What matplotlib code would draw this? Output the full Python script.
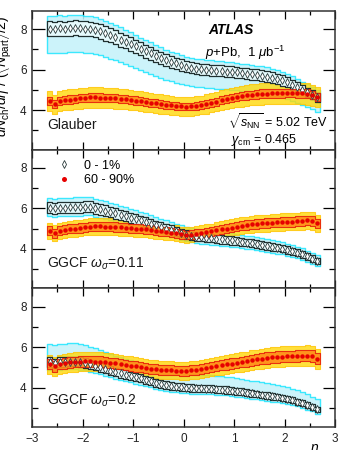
import matplotlib
matplotlib.use("Agg")
import matplotlib.pyplot as plt
import numpy as np
from matplotlib.lines import Line2D
from matplotlib.ticker import MultipleLocator

plt.rcParams["font.family"] = ["Liberation Sans", "DejaVu Sans"]
plt.rcParams["mathtext.fontset"] = "custom"
plt.rcParams["mathtext.rm"] = "Liberation Sans"
plt.rcParams["mathtext.it"] = "Liberation Sans:italic"
plt.rcParams["mathtext.bf"] = "Liberation Sans:bold"

# eta bin centres, -2.65 ... 2.65 in 0.1 bins
eta = np.round(np.arange(-2.65, 2.7, 0.1), 2)

# --- Glauber ---
glauber_central = [
    8.02, 8.00, 8.03, 8.00, 8.05, 8.07, 8.05, 8.02, 8.00, 7.95,
    7.88, 7.78, 7.70, 7.60, 7.48, 7.38, 7.25, 7.15, 7.02, 6.90,
    6.80, 6.68, 6.58, 6.47, 6.38, 6.30, 6.22, 6.15, 6.10, 6.05,
    6.02, 6.00, 5.97, 5.95, 5.93, 5.90, 5.88, 5.86, 5.83, 5.80,
    5.77, 5.74, 5.70, 5.65, 5.60, 5.53, 5.46, 5.37, 5.25, 5.13,
    5.00, 4.88, 4.75, 4.62,
]
glauber_peripheral = [
    4.43, 4.28, 4.45, 4.50, 4.52, 4.55, 4.58, 4.60, 4.62, 4.62,
    4.61, 4.60, 4.60, 4.58, 4.56, 4.53, 4.50, 4.47, 4.43, 4.40,
    4.36, 4.33, 4.30, 4.26, 4.23, 4.20, 4.18, 4.17, 4.18, 4.21,
    4.25, 4.30, 4.36, 4.42, 4.48, 4.54, 4.60, 4.65, 4.69, 4.72,
    4.75, 4.78, 4.80, 4.81, 4.82, 4.83, 4.83, 4.84, 4.84, 4.83,
    4.82, 4.80, 4.74, 4.65,
]

# --- GGCF omega = 0.11 ---
ggcf011_central = [
    6.02, 6.00, 6.03, 6.02, 6.04, 6.05, 6.06, 6.07, 6.08, 6.00,
    5.95, 5.88, 5.82, 5.75, 5.68, 5.60, 5.53, 5.46, 5.40, 5.32,
    5.24, 5.16, 5.08, 5.00, 4.93, 4.86, 4.78, 4.70, 4.64, 4.60,
    4.57, 4.54, 4.52, 4.49, 4.46, 4.44, 4.41, 4.38, 4.35, 4.31,
    4.27, 4.23, 4.19, 4.15, 4.10, 4.05, 4.00, 3.94, 3.87, 3.80,
    3.72, 3.62, 3.52, 3.40,
]
ggcf011_peripheral = [
    4.90, 4.77, 4.90, 4.95, 4.98, 5.00, 5.03, 5.07, 5.10, 5.11,
    5.11, 5.10, 5.10, 5.08, 5.06, 5.04, 5.02, 5.00, 4.98, 4.96,
    4.93, 4.90, 4.87, 4.84, 4.80, 4.77, 4.72, 4.68, 4.70, 4.74,
    4.78, 4.82, 4.86, 4.91, 4.96, 5.00, 5.05, 5.10, 5.14, 5.17,
    5.20, 5.23, 5.25, 5.27, 5.29, 5.30, 5.32, 5.33, 5.34, 5.36,
    5.38, 5.40, 5.38, 5.25,
]

# --- GGCF omega = 0.2 ---
ggcf02_central = [
    5.25, 5.20, 5.25, 5.27, 5.28, 5.28, 5.25, 5.22, 5.15, 5.07,
    5.00, 4.92, 4.84, 4.77, 4.70, 4.64, 4.57, 4.51, 4.45, 4.38,
    4.31, 4.24, 4.18, 4.12, 4.07, 4.04, 4.02, 4.00, 3.98, 3.97,
    3.96, 3.95, 3.94, 3.92, 3.90, 3.88, 3.85, 3.82, 3.79, 3.75,
    3.71, 3.68, 3.64, 3.60, 3.56, 3.52, 3.48, 3.43, 3.37, 3.30,
    3.22, 3.13, 3.03, 2.92,
]
ggcf02_peripheral = [
    5.15, 5.04, 5.15, 5.20, 5.24, 5.26, 5.28, 5.29, 5.29, 5.28,
    5.27, 5.25, 5.22, 5.19, 5.15, 5.12, 5.08, 5.04, 5.00, 4.97,
    4.94, 4.91, 4.88, 4.86, 4.85, 4.84, 4.83, 4.83, 4.85, 4.88,
    4.92, 4.96, 5.00, 5.05, 5.10, 5.14, 5.18, 5.22, 5.26, 5.30,
    5.35, 5.39, 5.42, 5.46, 5.49, 5.51, 5.53, 5.54, 5.55, 5.56,
    5.57, 5.58, 5.56, 5.42,
]

# relative uncertainties: (sys box, band up, band down)
glauber_central_unc = (0.046, 0.08, 0.15)
glauber_peripheral_unc = (0.045, 0.11, 0.11)
ggcf011_central_unc = (0.045, 0.08, 0.07)
ggcf011_peripheral_unc = (0.045, 0.08, 0.08)
ggcf02_central_unc = (0.045, 0.17, 0.07)
ggcf02_peripheral_unc = (0.05, 0.09, 0.09)

panel_labels = ["Glauber", r"GGCF $\omega_{\sigma}$=0.11", r"GGCF $\omega_{\sigma}$=0.2"]
legend_labels = ["0 - 1%", "60 - 90%"]

panels = [
    (glauber_central, glauber_central_unc, glauber_peripheral, glauber_peripheral_unc),
    (ggcf011_central, ggcf011_central_unc, ggcf011_peripheral, ggcf011_peripheral_unc),
    (ggcf02_central, ggcf02_central_unc, ggcf02_peripheral, ggcf02_peripheral_unc),
]

edges = np.append(eta - 0.05, eta[-1] + 0.05)


def step_band(ax, lo, hi, **kw):
    lo = np.append(lo, lo[-1])
    hi = np.append(hi, hi[-1])
    ax.fill_between(edges, lo, hi, step="post", **kw)


def draw_series(ax, vals, unc, kind):
    v = np.asarray(vals)
    sys, up, dn = unc
    if kind == "central":
        step_band(ax, v * (1 - dn), v * (1 + up), facecolor="#c4f2fa",
                  edgecolor="#1ee6ff", lw=1.0, alpha=0.85, zorder=2)
        step_band(ax, v * (1 - sys), v * (1 + sys), facecolor="#e6fafc",
                  edgecolor="#1f2f2f", lw=0.9, zorder=4)
    else:
        step_band(ax, v * (1 - dn), v * (1 + up), facecolor="#ffd90a",
                  edgecolor="#ffc400", lw=0.8, alpha=0.8, zorder=3)
        step_band(ax, v * (1 - sys), v * (1 + sys), facecolor="#ff8c1a",
                  edgecolor="#e8200a", lw=0.8, alpha=0.9, zorder=5)


fig, axes = plt.subplots(3, 1, figsize=(3.42, 4.5), dpi=100, sharex=True)
fig.subplots_adjust(left=0.094, right=0.98, top=0.976, bottom=0.051, hspace=0)

for i, (ax, (cen, cen_u, per, per_u)) in enumerate(zip(axes, panels)):
    draw_series(ax, cen, cen_u, "central")
    draw_series(ax, per, per_u, "peripheral")
    ax.plot(eta, cen, ls="none", marker="d", ms=3.6, mfc="white", mec="#2a3a3a",
            mew=0.6, zorder=6)
    ax.plot(eta, per, ls="none", marker="o", ms=3.2, mfc="#e60000", mec="#e60000",
            mew=0, zorder=7)

    ax.set_xlim(-3, 3)
    ax.set_ylim(2.05, 8.9)
    ax.yaxis.set_major_locator(MultipleLocator(2))
    ax.yaxis.set_minor_locator(MultipleLocator(1))
    ax.xaxis.set_major_locator(MultipleLocator(1))
    ax.xaxis.set_minor_locator(MultipleLocator(0.5))
    ax.tick_params(axis="both", which="both", direction="in", top=True, right=True,
                   labelsize=8.5, width=0.9, colors="black", labelcolor="#222222")
    ax.tick_params(axis="y", which="major", length=9)
    ax.tick_params(axis="y", which="minor", length=4.5)
    ax.tick_params(axis="x", which="major", length=5.5)
    ax.tick_params(axis="x", which="minor", length=3)
    ax.tick_params(axis="y", pad=4)
    for s in ax.spines.values():
        s.set_linewidth(1.1)
        s.set_color("#333333")
    ax.text(0.05, 0.175 if i < 2 else 0.19, panel_labels[i], transform=ax.transAxes,
            fontsize=10, va="center", ha="left", color="#1a1a1a")

axes[2].tick_params(axis="x", pad=4)
axes[2].set_xticks([-3, -2, -1, 0, 1, 2, 3])
axes[2].set_xticklabels(["\u22123", "\u22122", "\u22121", "0", "1", "2", "3"])

ax0 = axes[0]
ax0.text(0.58, 0.86, "ATLAS", transform=ax0.transAxes, fontsize=10,
         fontweight="bold", style="italic", va="center", ha="left")
ax0.text(0.57, 0.70, r"$p$+Pb,  1 $\mu$b$^{-1}$", transform=ax0.transAxes,
         fontsize=9.5, va="center", ha="left")
ax0.text(0.645, 0.195, r"$\sqrt{s_{\rm NN}}$ = 5.02 TeV", transform=ax0.transAxes,
         fontsize=9, va="center", ha="left")
ax0.text(0.655, 0.07, r"$y_{\rm cm}$ = 0.465", transform=ax0.transAxes,
         fontsize=9, va="center", ha="left")

handles = [
    Line2D([], [], ls="none", marker="d", ms=3.8, mfc="white", mec="#2a3a3a", mew=0.6),
    Line2D([], [], ls="none", marker="o", ms=3.6, mfc="#e60000", mec="#e60000", mew=0),
]
axes[1].legend(handles, legend_labels, loc="upper left", bbox_to_anchor=(0.05, 0.99),
               frameon=False, fontsize=9, handlelength=1.2, handletextpad=1.0,
               labelspacing=0.2, borderpad=0.2)

fig.text(0.004, 0.965,
         r"$dN_{\rm ch}/d\eta$ / ($\langle N_{\rm part}\rangle$/2)",
         rotation=90, ha="center", va="top", fontsize=10)
fig.text(0.905, 0.018, r"$\eta$", ha="left", va="top", fontsize=10)

fig.savefig("out.png", dpi=100)
